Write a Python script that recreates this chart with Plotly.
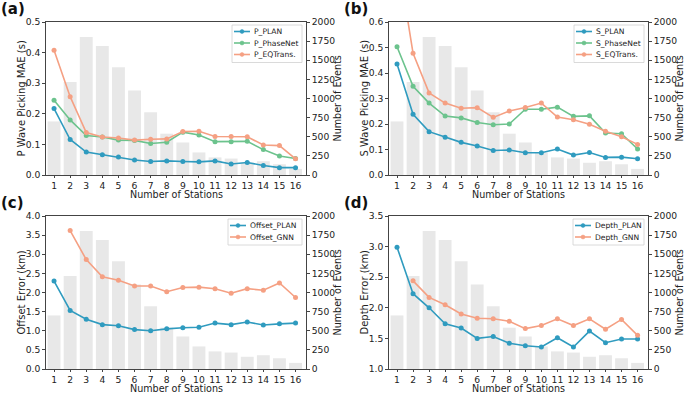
import plotly.graph_objects as go

stations = list(range(1, 17))
events = [700, 1215, 1805, 1685, 1410, 1105, 820, 540, 425, 295, 230, 215, 160, 180, 140, 80]

p_plan = [0.217, 0.116, 0.075, 0.066, 0.059, 0.049, 0.044, 0.046, 0.044, 0.043, 0.046, 0.036, 0.041, 0.031, 0.024, 0.024]
p_phasenet = [0.244, 0.180, 0.129, 0.124, 0.114, 0.113, 0.103, 0.107, 0.140, 0.131, 0.109, 0.109, 0.110, 0.083, 0.062, 0.054]
p_eqtrans = [0.408, 0.256, 0.139, 0.124, 0.121, 0.114, 0.117, 0.118, 0.142, 0.143, 0.126, 0.126, 0.125, 0.098, 0.096, 0.053]

s_plan = [0.435, 0.238, 0.170, 0.148, 0.128, 0.114, 0.096, 0.098, 0.087, 0.087, 0.102, 0.078, 0.088, 0.069, 0.070, 0.064]
s_phasenet = [0.503, 0.348, 0.282, 0.231, 0.224, 0.206, 0.197, 0.200, 0.258, 0.258, 0.266, 0.230, 0.232, 0.165, 0.162, 0.102]
s_eqtrans = [0.87, 0.477, 0.322, 0.282, 0.262, 0.264, 0.226, 0.251, 0.265, 0.282, 0.227, 0.217, 0.199, 0.172, 0.150, 0.120]

offset_plan = [2.30, 1.53, 1.30, 1.16, 1.13, 1.03, 1.00, 1.05, 1.08, 1.09, 1.20, 1.16, 1.23, 1.15, 1.18, 1.20]
offset_gnn = [None, 3.62, 2.86, 2.41, 2.32, 2.17, 2.17, 2.02, 2.13, 2.14, 2.10, 1.98, 2.10, 2.06, 2.25, 1.87]

depth_plan = [2.99, 2.23, 2.00, 1.74, 1.67, 1.50, 1.53, 1.42, 1.38, 1.36, 1.51, 1.36, 1.62, 1.43, 1.49, 1.49]
depth_gnn = [None, 2.44, 2.17, 2.05, 1.90, 1.83, 1.82, 1.78, 1.66, 1.71, 1.82, 1.71, 1.82, 1.65, 1.81, 1.55]

event_ticks = [0, 250, 500, 750, 1000, 1250, 1500, 1750, 2000]

BLUE = "#2f9bbf"
GREEN = "#6cc38d"
ORANGE = "#f5a083"
BAR = "#e8e8e8"
AX = "#444444"
TXT = "#222222"
FONT = "DejaVu Sans"

W, H = 685, 393

panels = [
    dict(label="(a)", x=(46, 306), y=(22, 175), ytitle="P Wave Picking MAE (s)",
         yrange=[0, 0.5], dtick=0.1,
         series=[("P_PLAN", p_plan, BLUE), ("P_PhaseNet", p_phasenet, GREEN), ("P_EQTrans.", p_eqtrans, ORANGE)],
         legw=70),
    dict(label="(b)", x=(389, 648), y=(22, 175), ytitle="S Wave Picking MAE (s)",
         yrange=[0, 0.6], dtick=0.1,
         series=[("S_PLAN", s_plan, BLUE), ("S_PhaseNet", s_phasenet, GREEN), ("S_EQTrans.", s_eqtrans, ORANGE)],
         legw=70),
    dict(label="(c)", x=(46, 306), y=(216, 369), ytitle="Offset Error (km)",
         yrange=[0, 4.0], dtick=0.5,
         series=[("Offset_PLAN", offset_plan, BLUE), ("Offset_GNN", offset_gnn, ORANGE)],
         legw=74),
    dict(label="(d)", x=(389, 648), y=(216, 369), ytitle="Depth Error (km)",
         yrange=[1.0, 3.5], dtick=0.5,
         series=[("Depth_PLAN", depth_plan, BLUE), ("Depth_GNN", depth_gnn, ORANGE)],
         legw=71),
]

fig = go.Figure()
layout = dict(
    width=W, height=H, margin=dict(l=0, r=0, t=0, b=0, autoexpand=False),
    paper_bgcolor="white", plot_bgcolor="white", showlegend=False,
    font=dict(family=FONT, color=TXT, size=10),
)
annotations = []
shapes = []
TICKF = dict(size=9.2, family=FONT, color=TXT)


def px_x(v):
    return v / W


def px_y(v):
    return 1 - v / H


for i, p in enumerate(panels):
    n = i + 1
    xa = "xaxis" if n == 1 else f"xaxis{n}"
    xref = "x" if n == 1 else f"x{n}"
    ybar_n = 2 * i + 1
    yline_n = 2 * i + 2
    ybar = "yaxis" if ybar_n == 1 else f"yaxis{ybar_n}"
    ybar_ref = "y" if ybar_n == 1 else f"y{ybar_n}"
    yline = f"yaxis{yline_n}"
    yline_ref = f"y{yline_n}"
    L, R = p["x"]
    T, B = p["y"]

    fig.add_trace(go.Bar(x=stations, y=events, marker=dict(color=BAR, line=dict(width=0)),
                         width=0.8, xaxis=xref, yaxis=ybar_ref, showlegend=False, hoverinfo="skip"))
    for name, vals, col in p["series"]:
        fig.add_trace(go.Scatter(x=stations, y=vals, mode="lines+markers", name=name,
                                 line=dict(color=col, width=1.6),
                                 marker=dict(color=col, size=5),
                                 xaxis=xref, yaxis=yline_ref, showlegend=False, cliponaxis=True))

    layout[xa] = dict(domain=[px_x(L), px_x(R)], range=[0.5, 16.65], tickmode="array",
                      tickvals=stations, tickangle=0, ticks="outside", ticklen=2, tickcolor=AX,
                      showline=True, linecolor=AX, linewidth=0.8, mirror=True,
                      showgrid=False, zeroline=False, anchor=yline_ref, automargin=False,
                      tickfont=TICKF)
    layout[ybar] = dict(domain=[px_y(B), px_y(T)], range=[0, 2000], tickvals=event_ticks,
                        side="right", anchor=xref, ticks="outside", ticklen=3, tickcolor=AX,
                        showgrid=False, zeroline=False, showline=True, linecolor=AX, linewidth=0.8,
                        tickfont=TICKF, automargin=False)
    lo, hi = p["yrange"]
    tv = []
    v = lo
    while v <= hi + 1e-9:
        tv.append(round(v, 3))
        v += p["dtick"]
    layout[yline] = dict(domain=[px_y(B), px_y(T)], range=[lo, hi], overlaying=ybar_ref, side="left", anchor=xref,
                         tickvals=tv, ticktext=[format(t, ".1f") for t in tv],
                         ticks="outside", ticklen=3, tickcolor=AX,
                         showgrid=False, zeroline=False, showline=True, linecolor=AX, linewidth=0.8,
                         tickfont=TICKF, automargin=False)

    # axis titles as annotations
    annotations.append(dict(text="Number of Stations", xref="paper", yref="paper",
                            x=px_x((L + R) / 2), y=px_y(B + 19), xanchor="center", yanchor="middle",
                            showarrow=False, font=dict(size=9.6, family=FONT, color=TXT)))
    annotations.append(dict(text=p["ytitle"], xref="paper", yref="paper", textangle=-90,
                            x=px_x(L - 25), y=px_y((T + B) / 2), xanchor="center", yanchor="middle",
                            showarrow=False, font=dict(size=10, family=FONT, color=TXT)))
    annotations.append(dict(text="Number of Events", xref="paper", yref="paper", textangle=-90,
                            x=px_x(R + 31), y=px_y((T + B) / 2), xanchor="center", yanchor="middle",
                            showarrow=False, font=dict(size=9.6, family=FONT, color=TXT)))

    # panel label
    annotations.append(dict(text="<b>" + p["label"] + "</b>", xref="paper", yref="paper",
                            x=px_x(L - 47), y=px_y(T - 13),
                            xanchor="left", yanchor="middle", showarrow=False,
                            font=dict(size=15, family=FONT, color="#111")))

    # legend (manual, using shapes + text)
    nser = len(p["series"])
    lx1 = R - 4
    lx0 = lx1 - p["legw"]
    ly0 = T + 3
    rowh = 11.5
    ly1 = ly0 + 2 + rowh * nser + 1
    shapes.append(dict(type="rect", xref="paper", yref="paper",
                       x0=px_x(lx0), x1=px_x(lx1), y0=px_y(ly1), y1=px_y(ly0),
                       line=dict(color="#d0d0d0", width=0.8), fillcolor="rgba(255,255,255,0.85)", layer="above"))
    for k, (name, vals, col) in enumerate(p["series"]):
        cy = ly0 + 6.5 + rowh * k
        shapes.append(dict(type="line", xref="paper", yref="paper",
                           x0=px_x(lx0 + 2), x1=px_x(lx0 + 18), y0=px_y(cy), y1=px_y(cy),
                           line=dict(color=col, width=1.6), layer="above"))
        shapes.append(dict(type="circle", xref="paper", yref="paper",
                           x0=px_x(lx0 + 8), x1=px_x(lx0 + 12), y0=px_y(cy + 2), y1=px_y(cy - 2),
                           line=dict(color=col, width=0.5), fillcolor=col, layer="above"))
        annotations.append(dict(text=name, xref="paper", yref="paper",
                                x=px_x(lx0 + 20), y=px_y(cy), xanchor="left", yanchor="middle",
                                showarrow=False, font=dict(size=7.6, family=FONT, color=TXT)))

layout["annotations"] = annotations
layout["shapes"] = shapes
fig.update_layout(**layout)
fig.write_html("out.html", config={"displayModeBar": False},
               post_script="document.body.style.margin='0';document.body.style.padding='0';document.body.style.overflow='hidden';")
